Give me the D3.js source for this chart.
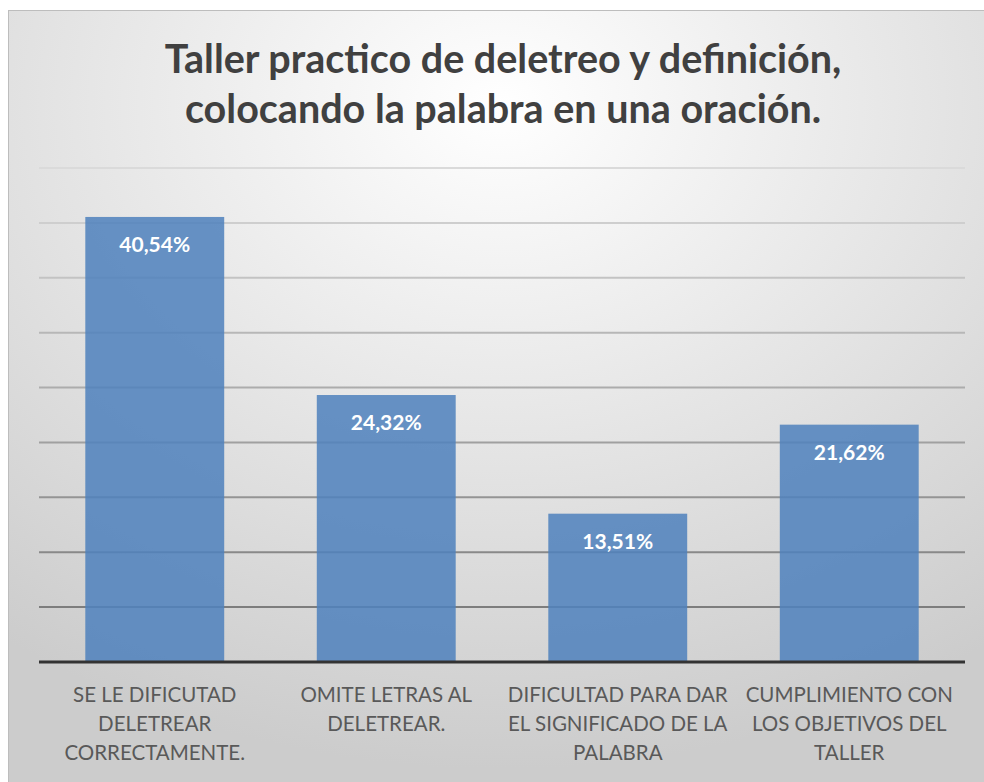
<!DOCTYPE html>
<html>
<head>
<meta charset="utf-8">
<script src="https://cdn.jsdelivr.net/npm/d3@7"></script>
<style>
    body { margin: 0; background: #ffffff; }
    svg { display: block; }
</style>
</head>
<body>
<div id="chart"></div>
<script>
// Chart data
const titleLines = ["Taller practico de deletreo y definición,", "colocando la palabra en una oración."];
const categories = [
    ["SE LE DIFICUTAD", "DELETREAR", "CORRECTAMENTE."],
    ["OMITE LETRAS AL", "DELETREAR."],
    ["DIFICULTAD PARA DAR", "EL SIGNIFICADO DE LA", "PALABRA"],
    ["CUMPLIMIENTO CON", "LOS OBJETIVOS DEL", "TALLER"]
];
const values = [40.54, 24.32, 13.51, 21.62];
const valueLabels = ["40,54%", "24,32%", "13,51%", "21,62%"];
const gridTicks = [5, 10, 15, 20, 25, 30, 35, 40, 45];

const width = 984, height = 782;
const margin = { top: 168, right: 19, bottom: 120, left: 39 };

const svg = d3.select("#chart")
    .append("svg")
    .attr("width", width)
    .attr("height", height);

// background gradient of the chart area
const defs = svg.append("defs");
const grad = defs.append("radialGradient")
    .attr("id", "bg")
    .attr("cx", "50%").attr("cy", "12%")
    .attr("r", "85%");
grad.append("stop").attr("offset", "0%").attr("stop-color", "#ffffff");
grad.append("stop").attr("offset", "100%").attr("stop-color", "#cccccc");

svg.append("rect")
    .attr("x", 8.5).attr("y", 10.5)
    .attr("width", width).attr("height", height)
    .attr("fill", "url(#bg)")
    .attr("stroke", "#bdbdbd")
    .attr("stroke-width", 1);

// Title
svg.append("g")
    .selectAll("text")
    .data(titleLines)
    .enter()
    .append("text")
    .attr("x", 503)
    .attr("y", (d, i) => 73 + i * 50)
    .attr("text-anchor", "middle")
    .style("font-family", "Lato, 'Open Sans', sans-serif")
    .style("font-weight", "bold")
    .style("font-size", "39.5px")
    .style("fill", "#404040")
    .text(d => d);

const g = svg.append("g");

const x = d3.scaleBand()
    .domain(d3.range(categories.length))
    .range([margin.left, width - margin.right])
    .paddingInner(0.4)
    .paddingOuter(0.2);

const y = d3.scaleLinear()
    .domain([0, 45])
    .range([height - margin.bottom, margin.top]);

// gridlines, lighter at the top
const gridColor = d3.scaleLinear()
    .domain([d3.min(gridTicks), d3.max(gridTicks)])
    .range(["#7d7d7d", "#dadada"]);

g.selectAll(".grid")
    .data(gridTicks)
    .enter()
    .append("line")
    .attr("class", "grid")
    .attr("x1", margin.left)
    .attr("x2", width - margin.right)
    .attr("y1", d => y(d))
    .attr("y2", d => y(d))
    .style("stroke", d => gridColor(d))
    .style("stroke-width", 2);

// Bars
g.selectAll(".bar")
    .data(values)
    .enter()
    .append("rect")
    .attr("class", "bar")
    .attr("x", (d, i) => x(i))
    .attr("y", d => y(d))
    .attr("width", x.bandwidth())
    .attr("height", d => y(0) - y(d))
    .style("fill", "#4f81bd")
    .style("opacity", 0.86);

// Value labels
g.selectAll(".value")
    .data(values)
    .enter()
    .append("text")
    .attr("class", "value")
    .attr("x", (d, i) => x(i) + x.bandwidth() / 2)
    .attr("y", d => y(d) + 35)
    .attr("text-anchor", "middle")
    .style("font-family", "Lato, 'Open Sans', sans-serif")
    .style("font-weight", "bold")
    .style("font-size", "21px")
    .style("fill", "#ffffff")
    .text((d, i) => valueLabels[i]);

// Baseline
g.append("line")
    .attr("x1", margin.left)
    .attr("x2", width - margin.right)
    .attr("y1", y(0))
    .attr("y2", y(0))
    .style("stroke", "#333333")
    .style("stroke-width", 3);

// Category labels
const cat = g.selectAll(".cat")
    .data(categories)
    .enter()
    .append("text")
    .attr("class", "cat")
    .attr("text-anchor", "middle")
    .style("font-family", "Lato, 'Open Sans', sans-serif")
    .style("font-size", "20.5px")
    .style("fill", "#595959");

cat.selectAll("tspan")
    .data((d, i) => d.map(line => ({ line, i })))
    .enter()
    .append("tspan")
    .attr("x", d => x(d.i) + x.bandwidth() / 2)
    .attr("y", (d, j) => y(0) + 40 + j * 29)
    .text(d => d.line);
</script>
</body>
</html>
